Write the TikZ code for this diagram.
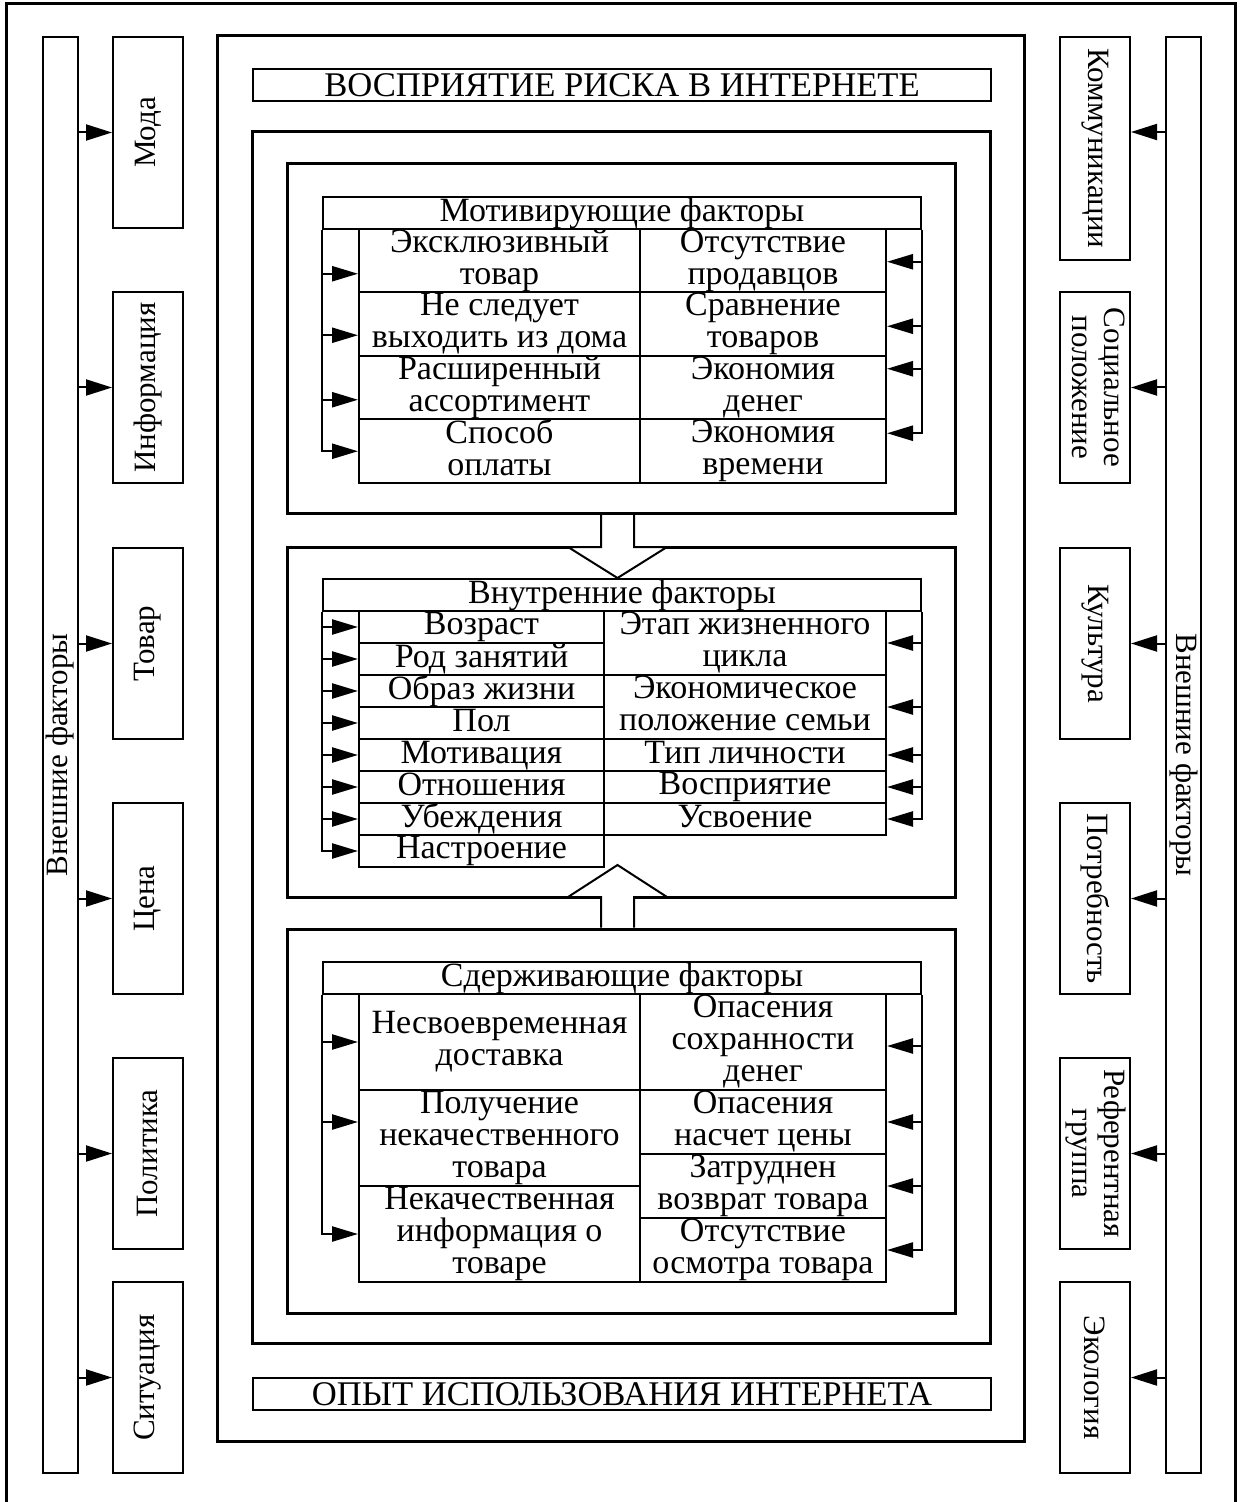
\documentclass[tikz,border=0pt]{standalone}
\usepackage{fontspec}
\setmainfont{Liberation Serif}
\usepackage{tikz}
\usetikzlibrary{arrows.meta,positioning,calc}
\newcommand{\cellfont}{\fontsize{17}{16}\selectfont}
\newcommand{\titlefont}{\fontsize{17.3}{16}\selectfont}
\newcommand{\sidefont}{\fontsize{15.5}{16}\selectfont}
\newcommand{\cstrut}{\rule[-3.5pt]{0pt}{15pt}}

\begin{document}
\begin{tikzpicture}[x=0.5pt, y=-0.5pt,
    frame/.style={draw, line width=1.5pt},
    bar/.style={draw, line width=1pt, minimum width=17.5pt, minimum height=718pt, inner sep=0pt, anchor=north west},
    sidebox/.style={draw, line width=1pt, minimum width=35pt, minimum height=95.5pt, inner sep=0pt, anchor=north west, font=\sidefont},
    titlebox/.style={draw, line width=1pt, minimum width=369pt, minimum height=16pt, inner sep=0pt, anchor=north west, font=\titlefont},
    headbox/.style={draw, line width=1pt, minimum width=299pt, minimum height=16pt, inner sep=0pt, anchor=north west, font=\cellfont,
        execute at begin node=\cstrut},
    cell/.style={draw, line width=1pt, minimum width=#1, inner sep=0pt, anchor=north west, align=center, font=\cellfont,
        execute at begin node=\cstrut, execute at end node=\cstrut},
    arr/.style={-{Triangle[length=13pt, width=8pt]}, line width=1pt},
    tarr/.style={-{Triangle[length=13pt, width=7.5pt]}, line width=1.2pt},
    hollow/.style={draw, fill=white, line width=1pt}]

    \useasboundingbox (0,0) rectangle (1240,1502);

    % frames
    \draw[frame] (6,1502) -- (6,4) -- (1235,4) -- (1235,1502);
    \draw[frame] (217,36) rectangle (1024,1441);
    \draw[frame] (252,132) rectangle (990,1343);
    \draw[frame] (287,164) rectangle (955,513);
    \draw[frame] (287,547) rectangle (955,897);
    \draw[frame] (287,929) rectangle (955,1313);

    \node[titlebox] (risk) at (252,68) {ВОСПРИЯТИЕ РИСКА В ИНТЕРНЕТЕ};
    \node[titlebox] (usage) at (252,1377) {ОПЫТ ИСПОЛЬЗОВАНИЯ ИНТЕРНЕТА};

    % external factors, left
    \node[bar] (lbar) at (42,36) {};
    \node[rotate=90, font=\sidefont] (ltitle) at (lbar.center) {Внешние факторы};
    \node[sidebox] (fashion) at (112,36) {\rotatebox{90}{Мода}};
    \node[sidebox] (info) at (112,291) {\rotatebox{90}{Информация}};
    \node[sidebox] (goods) at (112,547) {\rotatebox{90}{Товар}};
    \node[sidebox] (price) at (112,802) {\rotatebox{90}{Цена}};
    \node[sidebox] (policy) at (112,1057) {\rotatebox{90}{Политика}};
    \node[sidebox] (situation) at (112,1281) {\rotatebox{90}{Ситуация}};

    \draw[arr] (lbar.east |- fashion.west) -- (fashion.west);
    \draw[arr] (lbar.east |- info.west) -- (info.west);
    \draw[arr] (lbar.east |- goods.west) -- (goods.west);
    \draw[arr] (lbar.east |- price.west) -- (price.west);
    \draw[arr] (lbar.east |- policy.west) -- (policy.west);
    \draw[arr] (lbar.east |- situation.west) -- (situation.west);

    % external factors, right
    \node[bar] (rbar) at (1165,36) {};
    \node[rotate=-90, font=\sidefont] (rtitle) at (rbar.center) {Внешние факторы};
    \node[sidebox, minimum height=111.5pt] (comm) at (1059,36) {\rotatebox{-90}{Коммуникации}};
    \node[sidebox] (social) at (1059,291) {\rotatebox{-90}{\begin{tabular}{@{}c@{}}Социальное\\положение\end{tabular}}};
    \node[sidebox] (culture) at (1059,547) {\rotatebox{-90}{Культура}};
    \node[sidebox] (need) at (1059,802) {\rotatebox{-90}{Потребность}};
    \node[sidebox] (refgroup) at (1059,1057) {\rotatebox{-90}{\begin{tabular}{@{}c@{}}Референтная\\группа\end{tabular}}};
    \node[sidebox] (ecology) at (1059,1281) {\rotatebox{-90}{Экология}};

    \coordinate (commpt) at ($(comm.east)+(0,-16.5)$);
    \draw[arr] (rbar.west |- commpt) -- (commpt);
    \draw[arr] (rbar.west |- social.east) -- (social.east);
    \draw[arr] (rbar.west |- culture.east) -- (culture.east);
    \draw[arr] (rbar.west |- need.east) -- (need.east);
    \draw[arr] (rbar.west |- refgroup.east) -- (refgroup.east);
    \draw[arr] (rbar.west |- ecology.east) -- (ecology.east);

    % motivating factors
    \node[headbox] (mhead) at (322,196) {Мотивирующие факторы};
    \node[cell=140.5pt, minimum height=31.75pt] (m1) at (358,228) {Эксклюзивный\\товар};
    \node[cell=140.5pt, minimum height=31.75pt] (m2) at (358,291.5) {Не следует\\выходить из дома};
    \node[cell=140.5pt, minimum height=31.75pt] (m3) at (358,355) {Расширенный\\ассортимент};
    \node[cell=140.5pt, minimum height=31.75pt] (m4) at (358,418.5) {Способ\\оплаты};
    \node[cell=123pt, minimum height=31.75pt] (mr1) at (639,228) {Отсутствие\\продавцов};
    \node[cell=123pt, minimum height=31.75pt] (mr2) at (639,291.5) {Сравнение\\товаров};
    \node[cell=123pt, minimum height=31.75pt] (mr3) at (639,355) {Экономия\\денег};
    \node[cell=123pt, minimum height=31.75pt] (mr4) at (639,418.5) {Экономия\\времени};

    \draw[tarr] (mhead.south west) |- ($(m1.west)+(0,13)$);
    \draw[tarr] (mhead.south west) |- ($(m2.west)+(0,11)$);
    \draw[tarr] (mhead.south west) |- ($(m3.west)+(0,12)$);
    \draw[tarr] (mhead.south west) |- (m4.west);
    \draw[tarr] (mhead.south east) |- ($(mr1.east)+(0,1)$);
    \draw[tarr] (mhead.south east) |- ($(mr2.east)+(0,2)$);
    \draw[tarr] (mhead.south east) |- ($(mr3.east)+(0,-19)$);
    \draw[tarr] (mhead.south east) |- ($(mr4.east)+(0,-18)$);

    % internal factors
    \node[headbox] (ihead) at (322,578) {Внутренние факторы};
    \node[cell=122.5pt, minimum height=16pt] (i1) at (358,610) {Возраст};
    \node[cell=122.5pt, minimum height=16pt] (i2) at (358,642) {Род занятий};
    \node[cell=122.5pt, minimum height=16pt] (i3) at (358,674) {Образ жизни};
    \node[cell=122.5pt, minimum height=16pt] (i4) at (358,706) {Пол};
    \node[cell=122.5pt, minimum height=16pt] (i5) at (358,738) {Мотивация};
    \node[cell=122.5pt, minimum height=16pt] (i6) at (358,770) {Отношения};
    \node[cell=122.5pt, minimum height=16pt] (i7) at (358,802) {Убеждения};
    \node[cell=122.5pt, minimum height=16pt] (i8) at (358,834) {Настроение};
    \node[cell=141pt, minimum height=32pt] (ir1) at (603,610) {Этап жизненного\\цикла};
    \node[cell=141pt, minimum height=32pt] (ir2) at (603,674) {Экономическое\\положение семьи};
    \node[cell=141pt, minimum height=16pt] (ir3) at (603,738) {Тип личности};
    \node[cell=141pt, minimum height=16pt] (ir4) at (603,770) {Восприятие};
    \node[cell=141pt, minimum height=16pt] (ir5) at (603,802) {Усвоение};

    \draw[tarr] (ihead.south west) |- (i1.west);
    \draw[tarr] (ihead.south west) |- (i2.west);
    \draw[tarr] (ihead.south west) |- (i3.west);
    \draw[tarr] (ihead.south west) |- (i4.west);
    \draw[tarr] (ihead.south west) |- (i5.west);
    \draw[tarr] (ihead.south west) |- (i6.west);
    \draw[tarr] (ihead.south west) |- (i7.west);
    \draw[tarr] (ihead.south west) |- (i8.west);
    \draw[tarr] (ihead.south east) |- (ir1.east);
    \draw[tarr] (ihead.south east) |- (ir2.east);
    \draw[tarr] (ihead.south east) |- (ir3.east);
    \draw[tarr] (ihead.south east) |- (ir4.east);
    \draw[tarr] (ihead.south east) |- (ir5.east);

    % restraining factors
    \node[headbox] (shead) at (322,961) {Сдерживающие факторы};
    \node[cell=140.5pt, minimum height=48pt] (s1) at (358,993) {Несвоевременная\\доставка};
    \node[cell=140.5pt, minimum height=48pt] (s2) at (358,1089) {Получение\\некачественного\\товара};
    \node[cell=140.5pt, minimum height=48pt] (s3) at (358,1185) {Некачественная\\информация о\\товаре};
    \node[cell=123pt, minimum height=48pt] (sr1) at (639,993) {Опасения\\сохранности\\денег};
    \node[cell=123pt, minimum height=32pt] (sr2) at (639,1089) {Опасения\\насчет цены};
    \node[cell=123pt, minimum height=32pt] (sr3) at (639,1153) {Затруднен\\возврат товара};
    \node[cell=123pt, minimum height=32pt] (sr4) at (639,1217) {Отсутствие\\осмотра товара};

    \draw[tarr] (shead.south west) |- (s1.west);
    \draw[tarr] (shead.south west) |- ($(s2.west)+(0,-16)$);
    \draw[tarr] (shead.south west) |- (s3.west);
    \draw[tarr] (shead.south east) |- ($(sr1.east)+(0,4)$);
    \draw[tarr] (shead.south east) |- (sr2.east);
    \draw[tarr] (shead.south east) |- (sr3.east);
    \draw[tarr] (shead.south east) |- (sr4.east);

    % block arrows between the frames
    \draw[hollow] (601,515) -- (601,547) -- (568,547) -- (617.5,578) -- (667,547) -- (634,547) -- (634,515);
    \draw[hollow] (601,927.5) -- (601,897) -- (568,897) -- (617.5,865) -- (667,897) -- (634,897) -- (634,927.5);
\end{tikzpicture}
\end{document}
